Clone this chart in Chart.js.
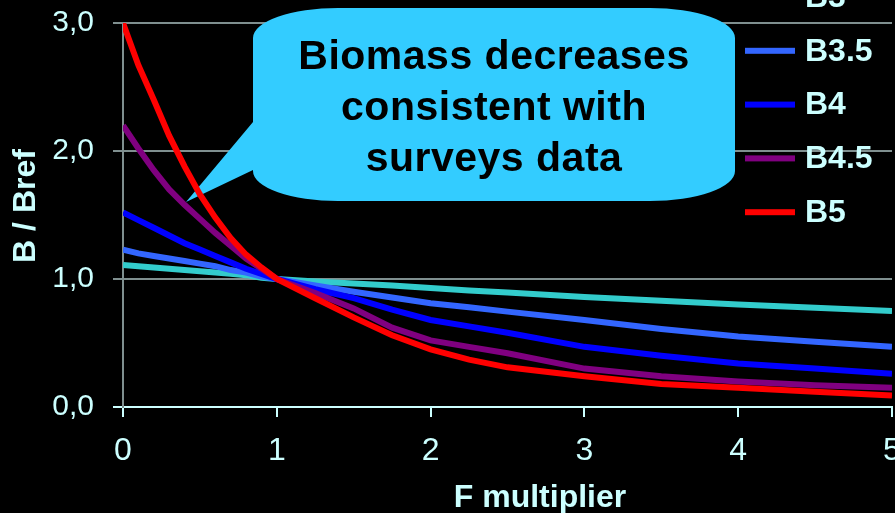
<!DOCTYPE html>
<html>
<head>
<meta charset="utf-8">
<script src="https://cdn.jsdelivr.net/npm/chart.js@4.4.0/dist/chart.umd.min.js"></script>
<style>
  html, body { margin: 0; padding: 0; background: #000; overflow: hidden; }
  #wrap { width: 895px; height: 513px; }
</style>
</head>
<body>
<div id="wrap"><canvas id="c" width="895" height="513"></canvas></div>
<script>
// F multiplier grid and relative biomass (B / Bref) for each scenario
const fMultiplier = [0, 0.1, 0.2, 0.3, 0.4, 0.5, 0.6, 0.7, 0.8, 0.9, 1, 1.25, 1.5, 1.75, 2, 2.25, 2.5, 3, 3.5, 4, 4.5, 5];
const b3   = [1.11, 1.10, 1.09, 1.08, 1.07, 1.06, 1.05, 1.04, 1.03, 1.01, 1.00, 0.98, 0.965, 0.95, 0.93, 0.91, 0.895, 0.86, 0.83, 0.80, 0.775, 0.75];
const b3_5 = [1.23, 1.20, 1.18, 1.16, 1.14, 1.12, 1.10, 1.07, 1.05, 1.02, 1.00, 0.95, 0.90, 0.855, 0.81, 0.78, 0.745, 0.68, 0.61, 0.55, 0.51, 0.47];
const b4   = [1.52, 1.46, 1.40, 1.34, 1.28, 1.23, 1.18, 1.13, 1.08, 1.04, 1.00, 0.92, 0.85, 0.76, 0.68, 0.63, 0.58, 0.47, 0.40, 0.34, 0.30, 0.26];
const b4_5 = [2.20, 2.02, 1.85, 1.70, 1.58, 1.47, 1.36, 1.26, 1.16, 1.08, 1.00, 0.89, 0.77, 0.62, 0.52, 0.47, 0.42, 0.30, 0.24, 0.20, 0.17, 0.15];
const b5   = [3.00, 2.67, 2.40, 2.12, 1.88, 1.66, 1.48, 1.32, 1.19, 1.09, 1.00, 0.85, 0.70, 0.56, 0.45, 0.37, 0.31, 0.24, 0.18, 0.15, 0.12, 0.09];

const seriesNames  = ['B3', 'B3.5', 'B4', 'B4.5', 'B5'];
const seriesValues = [b3, b3_5, b4, b4_5, b5];
const seriesColors = ['#33cccc', '#3366ff', '#0000ff', '#800080', '#ff0000'];

const yTickLabels = ['0,0', '1,0', '2,0', '3,0'];
const xTickLabels = ['0', '1', '2', '3', '4', '5'];
const xTitle = 'F multiplier';
const yTitle = 'B / Bref';
const calloutLines = ['Biomass decreases', 'consistent with', 'surveys data'];

const TEXT = '#ccffff';
const GRID = '#7f8f8f';
const FONT = '"Liberation Sans", Arial, sans-serif';

// Speech bubble behind the curves
const calloutPlugin = {
  id: 'callout',
  beforeDatasetsDraw(chart) {
    const ctx = chart.ctx;
    const L = 253, R = 735, T = 8, B = 201, rx = 85, ry = 30;
    const tip = { x: 186, y: 202 }, tailTop = 122, tailBottom = 170;
    ctx.save();
    ctx.beginPath();
    ctx.moveTo(L + rx, T);
    ctx.lineTo(R - rx, T);
    ctx.ellipse(R - rx, T + ry, rx, ry, 0, -Math.PI / 2, 0);
    ctx.lineTo(R, B - ry);
    ctx.ellipse(R - rx, B - ry, rx, ry, 0, 0, Math.PI / 2);
    ctx.lineTo(L + rx, B);
    ctx.ellipse(L + rx, B - ry, rx, ry, 0, Math.PI / 2, Math.PI);
    ctx.lineTo(L, tailBottom);
    ctx.lineTo(tip.x, tip.y);
    ctx.lineTo(L, tailTop);
    ctx.lineTo(L, T + ry);
    ctx.ellipse(L + rx, T + ry, rx, ry, 0, Math.PI, Math.PI * 1.5);
    ctx.closePath();
    ctx.fillStyle = '#33ccff';
    ctx.fill();

    ctx.fillStyle = '#000';
    ctx.font = 'bold 41px ' + FONT;
    if ('letterSpacing' in ctx) ctx.letterSpacing = '0.5px';
    ctx.textAlign = 'center';
    ctx.textBaseline = 'alphabetic';
    const baselines = [69, 120, 171];
    calloutLines.forEach((line, i) => ctx.fillText(line, 494, baselines[i]));
    ctx.restore();
  }
};

// Legend at the right, drawn over the plot
const legendPlugin = {
  id: 'sideLegend',
  afterDraw(chart) {
    const ctx = chart.ctx;
    ctx.save();
    ctx.font = 'bold 32px ' + FONT;
    ctx.textAlign = 'left';
    ctx.textBaseline = 'middle';
    chart.data.datasets.forEach((ds, i) => {
      const y = -3 + i * 53.8;
      ctx.fillStyle = ds.borderColor;
      ctx.fillRect(745, y - 3, 50, 6);
      ctx.fillStyle = TEXT;
      ctx.fillText(ds.label, 805, y + 1);
    });
    ctx.restore();
  }
};

// Axis titles
const axisTitlePlugin = {
  id: 'axisTitles',
  afterDraw(chart) {
    const ctx = chart.ctx;
    ctx.save();
    ctx.fillStyle = TEXT;
    ctx.font = 'bold 32px ' + FONT;
    ctx.textAlign = 'center';
    ctx.textBaseline = 'alphabetic';
    ctx.fillText(xTitle, 540, 507);
    ctx.translate(35, 206);
    ctx.rotate(-Math.PI / 2);
    ctx.fillText(yTitle, 0, 0);
    ctx.restore();
  }
};

const datasets = seriesNames.map((name, s) => ({
  label: name,
  data: fMultiplier.map((f, i) => ({ x: f, y: seriesValues[s][i] })),
  borderColor: seriesColors[s],
  backgroundColor: seriesColors[s],
  borderWidth: 6,
  pointRadius: 0,
  tension: 0,
  fill: false,
  order: seriesNames.length - 1 - s
}));

new Chart(document.getElementById('c'), {
  type: 'line',
  data: { datasets },
  options: {
    responsive: false,
    devicePixelRatio: 1,
    animation: false,
    layout: { padding: { top: 23, right: 3, left: 0, bottom: 0 } },
    plugins: { legend: { display: false }, tooltip: { enabled: false } },
    scales: {
      x: {
        type: 'linear',
        min: 0,
        max: 5,
        border: { color: TEXT, width: 2 },
        grid: { drawOnChartArea: false, drawTicks: true, tickLength: 10, color: TEXT, lineWidth: 2 },
        ticks: {
          stepSize: 1,
          autoSkip: false,
          maxRotation: 0,
          color: TEXT,
          padding: 15,
          font: { family: FONT, size: 32 },
          callback: (v) => xTickLabels[Math.round(v)]
        },
        afterFit(scale) { scale.height = 106; scale.paddingLeft = 0; scale.paddingRight = 0; }
      },
      y: {
        min: 0,
        max: 3,
        border: { color: GRID, width: 2 },
        grid: {
          color: (c) => (c.tick && c.tick.value === 0 ? TEXT : GRID),
          lineWidth: 2,
          tickLength: 10
        },
        ticks: {
          stepSize: 1,
          color: TEXT,
          padding: 19,
          font: { family: FONT, size: 30 },
          callback: (v) => yTickLabels[Math.round(v)]
        },
        afterFit(scale) { scale.width = 123; scale.paddingTop = 0; scale.paddingBottom = 0; }
      }
    }
  },
  plugins: [calloutPlugin, legendPlugin, axisTitlePlugin]
});
</script>
</body>
</html>
